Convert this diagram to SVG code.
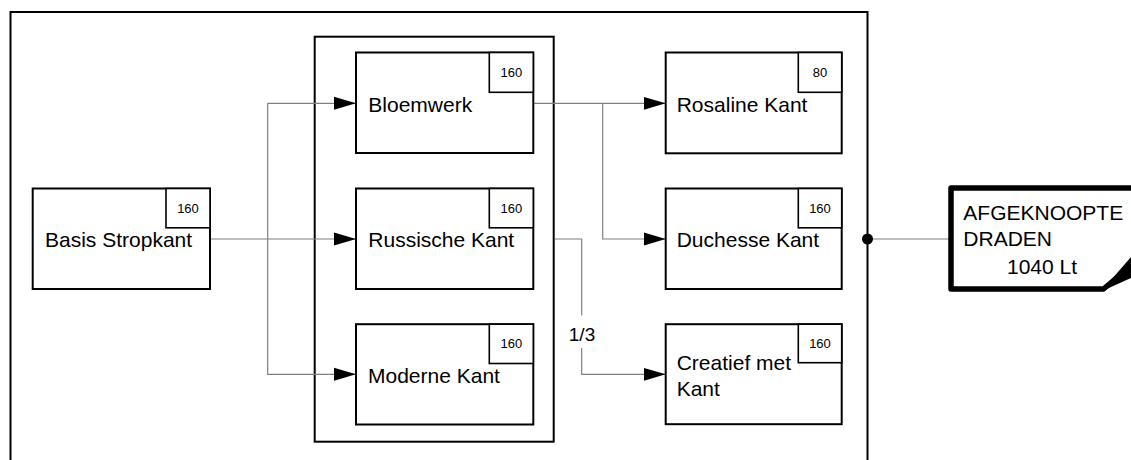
<svg xmlns="http://www.w3.org/2000/svg" width="1131" height="460" viewBox="0 0 1131 460">
<defs>
<style>
.frame{fill:none;stroke:#000;stroke-width:2}
.box{fill:#fff;stroke:#000;stroke-width:2}
.tag{fill:#fff;stroke:#000;stroke-width:1.6}
.lbl{font-family:"Liberation Sans",Arial,sans-serif;font-size:21px;fill:#000}
.num{font-family:"Liberation Sans",Arial,sans-serif;font-size:13px;fill:#000;text-anchor:middle}
.conn{fill:none;stroke:#808080;stroke-width:1.2}
.elbl{font-family:"Liberation Sans",Arial,sans-serif;font-size:19px;fill:#000;text-anchor:middle}
</style>
<marker id="arr" markerWidth="22" markerHeight="14" refX="22" refY="7" orient="auto" markerUnits="userSpaceOnUse">
<path d="M0,0.5 L22,7 L0,13.5 Z" fill="#000"/>
</marker>
</defs>
<rect width="1131" height="460" fill="#fff"/>
<rect id="outer" class="frame" x="10.5" y="12" width="857" height="470"/>
<rect id="group" class="frame" x="314.7" y="36.7" width="239" height="405"/>

<g id="connectors">
<path class="conn" d="M210,239 H356" marker-end="url(#arr)"/>
<path class="conn" d="M267.7,239 V103.3 H356" marker-end="url(#arr)"/>
<path class="conn" d="M267.7,239 V374.3 H356" marker-end="url(#arr)"/>
<path class="conn" d="M533.3,103.3 H665.7" marker-end="url(#arr)"/>
<path class="conn" d="M602.7,103.3 V239 H665.7" marker-end="url(#arr)"/>
<path class="conn" d="M554.7,239 H581.7 V374.3 H665.7" marker-end="url(#arr)"/>
<rect x="566" y="315.5" width="32" height="32.5" fill="#fff"/>
<text class="elbl" x="582" y="340.5">1/3</text>
<path class="conn" d="M867.5,239 H950"/>
<circle cx="867.5" cy="239" r="5.5" fill="#000"/>
</g>

<g id="basis">
<rect class="box" x="32.7" y="188.5" width="177.3" height="100.5"/>
<rect class="tag" x="166" y="188.5" width="44" height="39.3"/>
<text class="num" x="188" y="212.5">160</text>
<text class="lbl" x="45" y="247">Basis Stropkant</text>
</g>

<g id="bloemwerk">
<rect class="box" x="356" y="52.5" width="177.3" height="100.5"/>
<rect class="tag" x="489.3" y="52.5" width="44" height="39.8"/>
<text class="num" x="511.3" y="76.5">160</text>
<text class="lbl" x="368.3" y="111.7">Bloemwerk</text>
</g>

<g id="russische">
<rect class="box" x="356" y="188.5" width="177.3" height="100.5"/>
<rect class="tag" x="489.3" y="188.5" width="44" height="39.3"/>
<text class="num" x="511.3" y="212.5">160</text>
<text class="lbl" x="368.3" y="247">Russische Kant</text>
</g>

<g id="moderne">
<rect class="box" x="356" y="324.2" width="177.3" height="100.3"/>
<rect class="tag" x="489.3" y="324.2" width="44" height="39.3"/>
<text class="num" x="511.3" y="348.3">160</text>
<text class="lbl" x="368" y="383">Moderne Kant</text>
</g>

<g id="rosaline">
<rect class="box" x="665.7" y="52.5" width="176" height="100.8"/>
<rect class="tag" x="798.3" y="52.5" width="43.4" height="39.8"/>
<text class="num" x="820" y="76.5">80</text>
<text class="lbl" x="676.7" y="111.7">Rosaline Kant</text>
</g>

<g id="duchesse">
<rect class="box" x="665.7" y="188.5" width="176" height="100.5"/>
<rect class="tag" x="798.3" y="188.5" width="43.4" height="39.3"/>
<text class="num" x="820" y="212.5">160</text>
<text class="lbl" x="676.7" y="247">Duchesse Kant</text>
</g>

<g id="creatief">
<rect class="box" x="665.7" y="324.2" width="176" height="100"/>
<rect class="tag" x="798.3" y="324.2" width="43.4" height="38.5"/>
<text class="num" x="820" y="348.3">160</text>
<text class="lbl" x="676.7" y="370">Creatief met</text>
<text class="lbl" x="676.7" y="395.5">Kant</text>
</g>

<g id="afgeknoopte">
<path d="M951,188 H1150 V250 L1103.5,289 H951 Z" fill="#fff" stroke="#000" stroke-width="5.5" stroke-linejoin="round"/>
<polygon points="1101,291.5 1131,257 1140,255 1140,274" fill="#000"/>
<text class="lbl" x="963.3" y="220">AFGEKNOOPTE</text>
<text class="lbl" x="963.3" y="246">DRADEN</text>
<text class="lbl" x="1007" y="273.5">1040 Lt</text>
</g>
</svg>
